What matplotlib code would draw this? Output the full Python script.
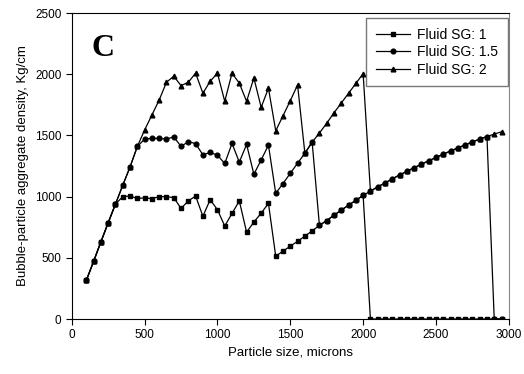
import matplotlib
matplotlib.use("Agg")
import matplotlib.pyplot as plt

plt.rcParams["font.family"] = ["Liberation Sans", "DejaVu Sans"]

# particle size, microns
size = list(range(100, 3000, 50))

sg1 = [316, 472, 631, 787, 940, 1000, 1005, 985, 990, 984,
       1000, 1000, 992, 904, 965, 1005, 840, 975, 893, 760,
       863, 965, 710, 792, 865, 945, 513, 555, 595, 635,
       677, 720, 765, 805, 848, 890, 930, 970, 1010, 0,
       0, 0, 0, 0, 0, 0, 0, 0, 0, 0,
       0, 0, 0, 0, 0, 0, 0, 0]

sg15 = [316, 472, 631, 787, 940, 1093, 1243, 1410, 1470, 1476,
        1476, 1470, 1489, 1410, 1450, 1433, 1342, 1361, 1339, 1271,
        1435, 1282, 1427, 1183, 1300, 1421, 1027, 1107, 1191, 1273,
        1355, 1445, 765, 805, 848, 890, 930, 970, 1010, 1045,
        1080, 1112, 1145, 1177, 1207, 1236, 1265, 1293, 1320, 1347,
        1373, 1398, 1423, 1447, 1470, 1491, 0, 0]

sg2 = [316, 472, 631, 787, 940, 1093, 1243, 1410, 1545, 1667,
       1790, 1935, 1984, 1907, 1935, 2009, 1845, 1943, 2009, 1779,
       2009, 1927, 1779, 1970, 1730, 1886, 1538, 1661, 1784, 1913,
       1355, 1445, 1520, 1600, 1685, 1765, 1845, 1925, 2005, 1045,
       1080, 1112, 1145, 1177, 1207, 1236, 1265, 1293, 1320, 1347,
       1373, 1398, 1423, 1447, 1470, 1491, 1511, 1530]

labels = ["Fluid SG: 1", "Fluid SG: 1.5", "Fluid SG: 2"]

fig = plt.figure(figsize=(5.24, 3.74), dpi=100)
ax = fig.add_axes([0.137, 0.147, 0.834, 0.818])

ax.plot(size, sg1, color="black", lw=0.9, marker="s", ms=3.4, label=labels[0])
ax.plot(size, sg15, color="black", lw=0.9, marker="o", ms=3.4, label=labels[1])
ax.plot(size, sg2, color="black", lw=0.9, marker="^", ms=3.4, label=labels[2])

ax.set_xlim(0, 3000)
ax.set_ylim(0, 2500)
ax.set_xticks(range(0, 3001, 500))
ax.set_yticks(range(0, 2501, 500))
ax.tick_params(direction="out", length=4, labelsize=8.5, top=False, right=False)
ax.spines["right"].set_color("#888888")
ax.set_xlabel("Particle size, microns", fontsize=9.5)
ax.set_ylabel("Bubble-particle aggregate density, Kg/cm", fontsize=9.5)

ax.text(0.045, 0.885, "C", transform=ax.transAxes, fontsize=23, fontweight="bold",
        family="Liberation Serif", va="center")

leg = ax.legend(loc="upper right", bbox_to_anchor=(0.998, 0.984), fontsize=10,
                frameon=True, fancybox=False, borderaxespad=0, handlelength=2.5,
                labelspacing=0.25, borderpad=0.7, handletextpad=0.5)
leg.get_frame().set_edgecolor("#555555")
leg.get_frame().set_linewidth(1.0)

fig.savefig("out.png", dpi=100)
